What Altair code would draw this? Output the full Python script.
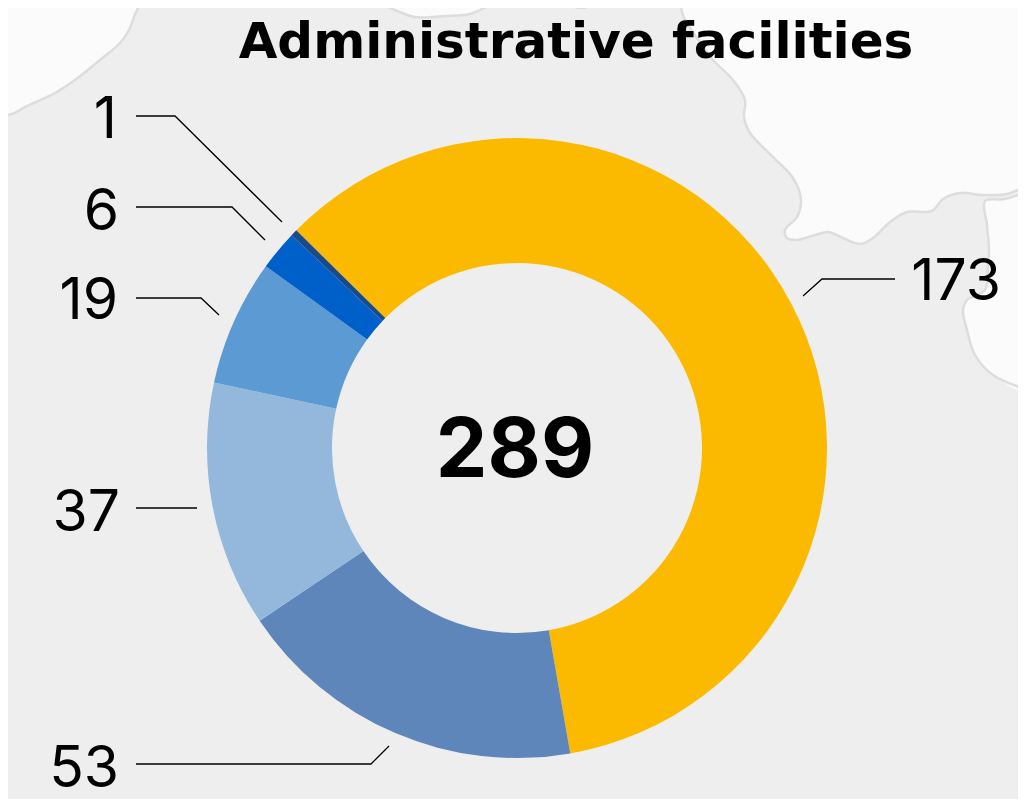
import altair as alt
import math

# ---- data ----
categories = ["A", "B", "C", "D", "E", "F"]
values = [173, 53, 37, 19, 6, 1]
colors = ["#FBBA00", "#5F86BA", "#94B8DC", "#5C9AD4", "#0060C9", "#1A4A8A"]
title_text = "Administrative facilities"
total_text = "289"

label_texts = ["173", "53", "37", "19", "6", "1"]
label_x = [1001, 119, 120, 118, 119, 117]
label_y = [281, 768, 512, 300, 211, 119]

leader_xs = [[895, 822, 803], [136, 371, 389], [136, 197], [136, 201, 219], [136, 232, 265], [136, 175, 282]]
leader_ys = [[279, 279, 296], [764, 764, 746], [508, 508], [298, 298, 315], [207, 207, 240], [116, 116, 222]]

land_a_x = [0, 12, 25, 55, 75, 100, 120, 129, 136, 143]
land_a_y = [115, 114, 107, 93, 80, 60, 43, 30, 12, 0]
land_a_close_x = [-5, -5]
land_a_close_y = [-5, 116]

land_b_x = [682, 682, 688, 700, 713, 733, 745, 744, 750, 773, 793, 801, 797, 785, 787, 797, 815, 828, 843, 860, 873, 890, 907, 932, 943, 960, 983, 1007, 1031]
land_b_y = [0, 12, 25, 42, 60, 80, 100, 117, 133, 157, 178, 200, 217, 230, 238, 240, 235, 232, 238, 244, 238, 222, 212, 211, 199, 193, 195, 194, 184]
land_b_close_x = [1031, 682]
land_b_close_y = [-5, -5]

land_c_x = [1031, 1005, 985, 987, 989, 988, 985, 967, 963, 967, 975, 993, 1031]
land_c_y = [190, 199, 201, 225, 250, 265, 290, 300, 310, 330, 355, 375, 391]
land_c_close_x = [1031]
land_c_close_y = [190]

land_d_x = [373, 395, 415, 445, 470, 490, 500]
land_d_y = [0, 10, 17, 16, 14, 5, 0]
land_d_close_x = [500, 373]
land_d_close_y = [-5, -5]

land_e_x = [563, 572, 582, 595, 603]
land_e_y = [0, 6, 8, 4, 0]
land_e_close_x = [603, 563]
land_e_close_y = [-5, -5]

# ---- tables ----
CX, CY, R_OUT, R_IN = 517, 448, 310, 185
START = math.radians(314.6)

arc_rows = [{"cat": c, "value": v, "ord": i, "cx": CX, "cy": CY}
            for i, (c, v) in enumerate(zip(categories, values))]
label_rows = [{"t": t, "x": x, "y": y} for t, x, y in zip(label_texts, label_x, label_y)]
leader_rows = [{"id": i, "k": k, "x": x, "y": y}
               for i, (xs_, ys_) in enumerate(zip(leader_xs, leader_ys))
               for k, (x, y) in enumerate(zip(xs_, ys_))]


def rows(xs_, ys_):
    return [{"k": k, "x": x, "y": y} for k, (x, y) in enumerate(zip(xs_, ys_))]


W, H = 1010, 791
xs = alt.Scale(domain=[8, 8 + W], range=[0, W])
ys = alt.Scale(domain=[8, 8 + H], range=[0, H])
X = alt.X("x:Q", scale=xs, axis=None)
Y = alt.Y("y:Q", scale=ys, axis=None)


def land(px, py, cx, cy):
    fill = alt.Chart(alt.Data(values=rows(px + cx, py + cy))).mark_line(
        fill="#FBFBFB", strokeOpacity=0, interpolate="catmull-rom", clip=True
    ).encode(x=X, y=Y, order=alt.Order("k:Q"))
    edge = alt.Chart(alt.Data(values=rows(px, py))).mark_line(
        stroke="#DDDDDD", strokeWidth=2.5, interpolate="catmull-rom", clip=True
    ).encode(x=X, y=Y, order=alt.Order("k:Q"))
    return [fill, edge]


arcs = alt.Chart(alt.Data(values=arc_rows)).mark_arc(
    radius=R_OUT, radius2=R_IN
).encode(
    x=alt.X("cx:Q", scale=xs, axis=None),
    y=alt.Y("cy:Q", scale=ys, axis=None),
    theta=alt.Theta("value:Q", stack=True,
                    scale=alt.Scale(domain=[0, sum(values)], range=[START, START + 2 * math.pi])),
    color=alt.Color("cat:N", scale=alt.Scale(domain=categories, range=colors), legend=None),
    order=alt.Order("ord:Q"),
)

leaders = alt.Chart(alt.Data(values=leader_rows)).mark_line(
    color="#000000", strokeWidth=1.3
).encode(x=X, y=Y, detail="id:N", order=alt.Order("k:Q"))

labels = alt.Chart(alt.Data(values=label_rows)).mark_text(
    font="Inter", fontSize=57, fontWeight=400, align="right", baseline="middle",
    color="#000000", dy=2
).encode(x=X, y=Y, text="t:N")

title_mark = alt.Chart(alt.Data(values=[{"t": title_text, "x": 576, "y": 43}])).mark_text(
    font="DejaVu Sans", fontSize=50, fontWeight=700, align="center", baseline="middle", color="#000000"
).encode(x=X, y=Y, text="t:N")

total_mark = alt.Chart(alt.Data(values=[{"t": total_text, "x": 515, "y": 452}])).mark_text(
    font="Inter", fontSize=82, fontWeight=700, align="center", baseline="middle", color="#000000"
).encode(x=X, y=Y, text="t:N")

layers = []
for p in [(land_a_x, land_a_y, land_a_close_x, land_a_close_y),
          (land_b_x, land_b_y, land_b_close_x, land_b_close_y),
          (land_c_x, land_c_y, land_c_close_x, land_c_close_y),
          (land_d_x, land_d_y, land_d_close_x, land_d_close_y),
          (land_e_x, land_e_y, land_e_close_x, land_e_close_y)]:
    layers += land(*p)

chart = alt.layer(
    *layers, arcs, leaders, labels, title_mark, total_mark,
).properties(
    width=W, height=H, padding=0, background="#EEEEEE"
).configure_view(stroke=None)

chart.save("out.html", embed_options={"renderer": "svg", "actions": False})
